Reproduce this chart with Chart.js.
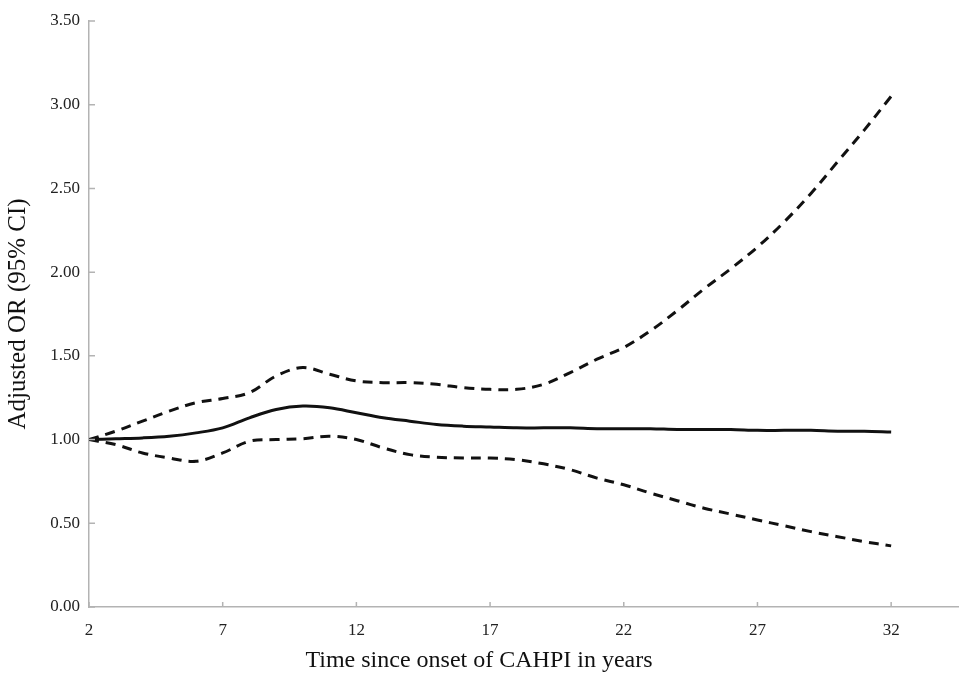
<!DOCTYPE html>
<html lang="en">
<head>
    <meta charset="UTF-8">
    <title>Adjusted OR by time since onset of CAHPI</title>
    <script src="https://cdn.jsdelivr.net/npm/chart.js"></script>
    <style>
        body {
            margin: 0;
            background: #fff;
        }
        #wrap {
            width: 960px;
            height: 673px;
        }
    </style>
</head>
<body>
    <div id="wrap">
        <canvas id="plot" width="960" height="673"></canvas>
    </div>

    <script>
        // years since onset, odds ratio and 95% CI bounds
        const years = [2, 3, 4, 5, 6, 7, 8, 9, 10, 11, 12, 13, 14, 15, 16, 17,
                       18, 19, 20, 21, 22, 23, 24, 25, 26, 27, 28, 29, 30, 31, 32];
        const orValues = [1.00, 1.005, 1.01, 1.02, 1.04, 1.07, 1.13, 1.18, 1.20, 1.19, 1.16, 1.13, 1.11, 1.09, 1.08, 1.075,
                          1.07, 1.07, 1.07, 1.065, 1.065, 1.065, 1.06, 1.06, 1.06, 1.055, 1.055, 1.055, 1.05, 1.05, 1.045];
        const upperCI = [1.00, 1.05, 1.11, 1.17, 1.22, 1.245, 1.28, 1.38, 1.43, 1.39, 1.35, 1.34, 1.34, 1.33, 1.31, 1.30,
                         1.30, 1.33, 1.40, 1.48, 1.55, 1.65, 1.77, 1.90, 2.02, 2.15, 2.30, 2.47, 2.66, 2.85, 3.05];
        const lowerCI = [1.00, 0.97, 0.92, 0.89, 0.87, 0.92, 0.99, 1.00, 1.005, 1.02, 1.00, 0.95, 0.91, 0.895, 0.89, 0.89,
                         0.88, 0.855, 0.82, 0.77, 0.73, 0.68, 0.635, 0.59, 0.555, 0.52, 0.485, 0.45, 0.42, 0.39, 0.365];
        const xTicks = [2, 7, 12, 17, 22, 27, 32];

        const pts = arr => years.map((x, i) => ({ x: x, y: arr[i] }));

        const axisColor = "#b3b3b3";
        const serif = "'Liberation Serif', 'Times New Roman', serif";

        // short tick marks drawn inward from the axes
        const innerTicks = {
            id: "innerTicks",
            afterDraw(chart) {
                const ctx = chart.ctx;
                const xs = chart.scales.x, ys = chart.scales.y;
                ctx.save();
                ctx.strokeStyle = axisColor;
                ctx.lineWidth = 1.5;
                ctx.beginPath();
                xs.ticks.forEach(t => {
                    const px = xs.getPixelForValue(t.value);
                    ctx.moveTo(px, ys.bottom);
                    ctx.lineTo(px, ys.bottom - 5);
                });
                ys.ticks.forEach(t => {
                    const py = ys.getPixelForValue(t.value);
                    ctx.moveTo(xs.left, py);
                    ctx.lineTo(xs.left + 6, py);
                });
                ctx.stroke();
                ctx.restore();
            }
        };

        new Chart(document.getElementById("plot"), {
            type: "line",
            data: {
                datasets: [
                    {
                        label: "Upper 95% CI",
                        data: pts(upperCI),
                        borderColor: "#111",
                        borderWidth: 3,
                        borderDash: [10, 7],
                        pointRadius: 0,
                        tension: 0.35,
                        fill: false
                    },
                    {
                        label: "Adjusted OR",
                        data: pts(orValues),
                        borderColor: "#111",
                        borderWidth: 3,
                        pointRadius: 0,
                        tension: 0.35,
                        fill: false
                    },
                    {
                        label: "Lower 95% CI",
                        data: pts(lowerCI),
                        borderColor: "#111",
                        borderWidth: 3,
                        borderDash: [10, 7],
                        pointRadius: 0,
                        tension: 0.35,
                        fill: false
                    }
                ]
            },
            options: {
                responsive: false,
                animation: false,
                layout: {
                    padding: { top: 21, right: 2, left: 0, bottom: 0 }
                },
                plugins: {
                    legend: { display: false },
                    tooltip: { enabled: false },
                    // x axis caption, centred on the whole figure like the original
                    title: {
                        display: true,
                        position: "bottom",
                        text: "Time since onset of CAHPI in years",
                        color: "#111",
                        font: { family: serif, size: 24, weight: "normal", lineHeight: 1.0 },
                        padding: { top: 0, bottom: 0 }
                    }
                },
                scales: {
                    x: {
                        type: "linear",
                        min: 2,
                        max: 34.5,
                        afterBuildTicks: scale => {
                            scale.ticks = xTicks.map(v => ({ value: v }));
                        },
                        afterFit: scale => { scale.height = 42; },
                        grid: { display: false, drawTicks: false },
                        border: { color: axisColor, width: 1.5 },
                        ticks: {
                            padding: 13,
                            color: "#222",
                            font: { family: serif, size: 17 },
                            callback: v => String(v)
                        }
                    },
                    y: {
                        min: 0,
                        max: 3.5,
                        afterFit: scale => { scale.width = 89; },
                        grid: { display: false, drawTicks: false },
                        border: { color: axisColor, width: 1.5 },
                        ticks: {
                            stepSize: 0.5,
                            padding: 9,
                            color: "#222",
                            font: { family: serif, size: 17 },
                            callback: v => v.toFixed(2)
                        },
                        title: {
                            display: true,
                            text: "Adjusted OR (95% CI)",
                            color: "#111",
                            font: { family: serif, size: 25 },
                            padding: { top: 3, bottom: 0 }
                        }
                    }
                }
            },
            plugins: [innerTicks]
        });
    </script>
</body>
</html>
